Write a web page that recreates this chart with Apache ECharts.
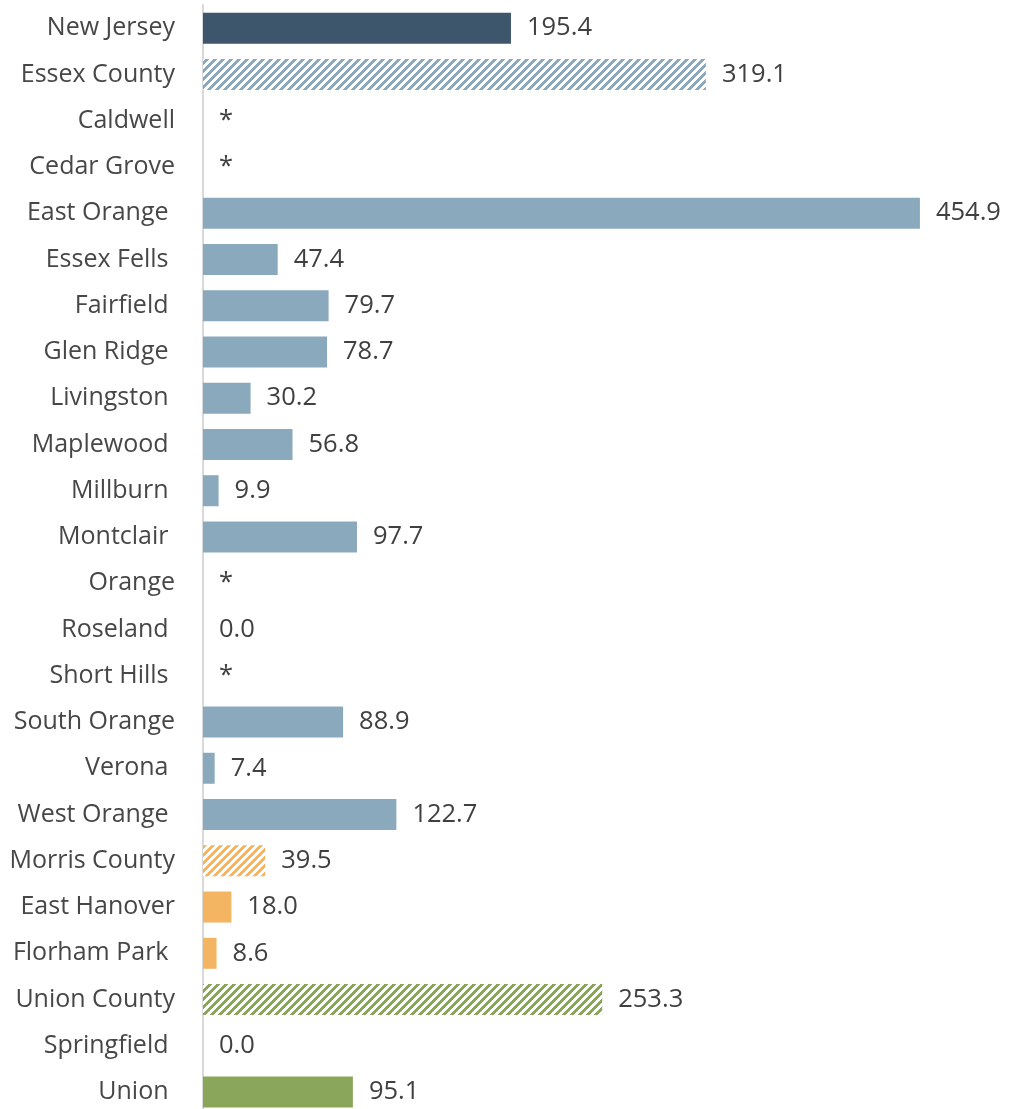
<!DOCTYPE html>
<html>
<head>
<meta charset="utf-8">
<script src="https://cdn.jsdelivr.net/npm/echarts@6/dist/echarts.min.js"></script>
<style>
  html, body { margin: 0; padding: 0; background: #ffffff; }
  #chart { width: 1011px; height: 1109px; }
</style>
</head>
<body>
<div id="chart"></div>
<script>
// Place names (some carry a trailing space as in the source table)
const places = [
  'New Jersey', 'Essex County', 'Caldwell', 'Cedar Grove', 'East Orange ',
  'Essex Fells ', 'Fairfield ', 'Glen Ridge ', 'Livingston ', 'Maplewood ',
  'Millburn ', 'Montclair ', 'Orange', 'Roseland ', 'Short Hills ',
  'South Orange', 'Verona ', 'West Orange ', 'Morris County', 'East Hanover',
  'Florham Park ', 'Union County', 'Springfield ', 'Union '
];

// Rates; null = suppressed (shown as "*")
const rates = [
  195.4, 319.1, null, null, 454.9,
  47.4, 79.7, 78.7, 30.2, 56.8,
  9.9, 97.7, null, 0.0, null,
  88.9, 7.4, 122.7, 39.5, 18.0,
  8.6, 253.3, 0.0, 95.1
];

// Fill style per row: 'state', 'county' (hatched) or 'town'
const levels = [
  'state', 'county', 'town', 'town', 'town',
  'town', 'town', 'town', 'town', 'town',
  'town', 'town', 'town', 'town', 'town',
  'town', 'town', 'town', 'county', 'town',
  'town', 'county', 'town', 'town'
];

// Colour group per row
const groups = [
  'nj', 'essex', 'essex', 'essex', 'essex',
  'essex', 'essex', 'essex', 'essex', 'essex',
  'essex', 'essex', 'essex', 'essex', 'essex',
  'essex', 'essex', 'essex', 'morris', 'morris',
  'morris', 'union', 'union', 'union'
];

const groupColors = {
  nj: '#3D566B',
  essex: '#8BA9BD',
  morris: '#F3B562',
  union: '#8AA65B'
};

// Upward diagonal hatch tile
function hatch(color) {
  const c = document.createElement('canvas');
  c.width = 8; c.height = 8;
  const ctx = c.getContext('2d');
  ctx.fillStyle = '#ffffff';
  ctx.fillRect(0, 0, 8, 8);
  ctx.fillStyle = color;
  for (let y = 0; y < 8; y++) {
    for (let x = 0; x < 8; x++) {
      if ((x + y) % 8 < 4) ctx.fillRect(x, y, 1, 1);
    }
  }
  return { image: c, repeat: 'repeat' };
}

const barData = rates.map((v, i) => {
  const col = groupColors[groups[i]];
  return {
    value: v === null ? 0 : v,
    itemStyle: { color: levels[i] === 'county' ? hatch(col) : col }
  };
});

const chart = echarts.init(document.getElementById('chart'), null, { renderer: 'canvas' });

chart.setOption({
  animation: false,
  grid: {
    left: 203,
    top: 5,
    width: 788,
    height: 1110.2,
    containLabel: false,
    outerBoundsMode: 'none'
  },
  xAxis: {
    type: 'value',
    min: 0,
    max: 500,
    show: false
  },
  yAxis: {
    type: 'category',
    data: places,
    inverse: true,
    axisLine: { show: true, lineStyle: { color: '#D9D9D9', width: 2 } },
    axisTick: { show: false },
    splitLine: { show: false },
    axisLabel: {
      color: '#474747',
      fontFamily: 'Open Sans',
      fontSize: 25,
      margin: 28,
      interval: 0
    }
  },
  series: [{
    type: 'bar',
    data: barData,
    barWidth: 31,
    label: {
      show: true,
      position: 'right',
      distance: 16,
      color: '#404040',
      fontFamily: 'Open Sans',
      fontSize: 25.5,
      formatter: p => rates[p.dataIndex] === null ? '*' : rates[p.dataIndex].toFixed(1)
    }
  }]
});
</script>
</body>
</html>
